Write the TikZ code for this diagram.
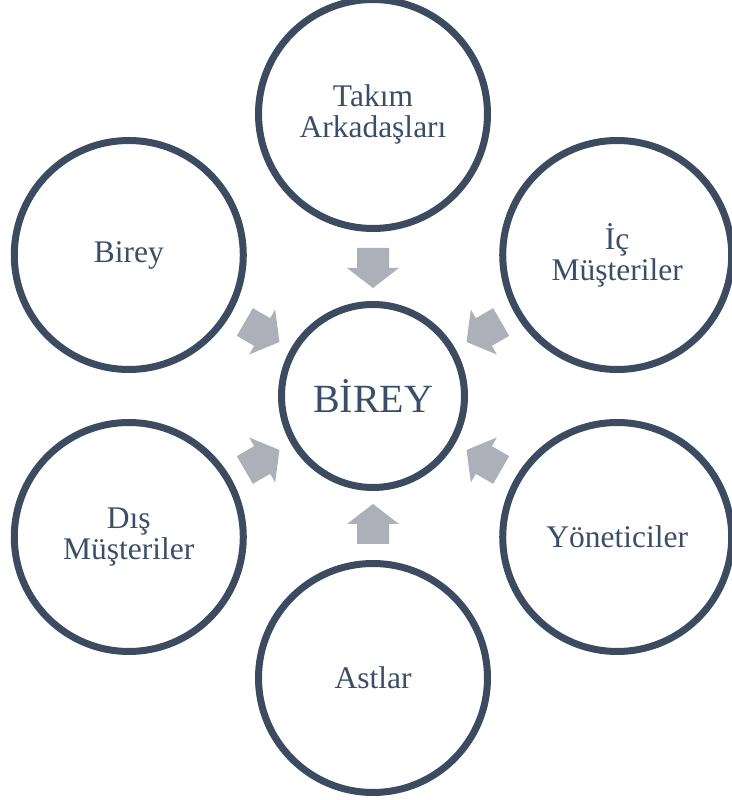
\documentclass[tikz,border=0pt]{standalone}
\usepackage{fontspec}
\setmainfont{Liberation Serif}
\usetikzlibrary{calc}
\definecolor{ringc}{HTML}{3C4B5F}
\definecolor{textc}{HTML}{3B4E68}
\definecolor{arrowc}{HTML}{ADB0B8}
\begin{document}
\begin{tikzpicture}[x=1pt,y=1pt,
  ring/.style={circle,draw=ringc,line width=7pt,inner sep=0pt,align=center,
    text=textc,font=\fontsize{31.5}{31}\selectfont},
  outerring/.style={ring,minimum size=229pt},
  centerring/.style={ring,minimum size=183pt,font=\fontsize{40}{40}\selectfont},
  blockarrow/.style={fill=arrowc}]
\useasboundingbox (0,0) rectangle (731,800);
\coordinate (c) at (373,404);
\node[centerring] (center) at (c) {BİREY};
\node[outerring] (top) at ($(c)+(90:282)$) {Takım\\Arkadaşları};
\node[outerring] (birey) at ($(c)+(150:282)$) {Birey};
\node[outerring] (ic) at ($(c)+(30:282)$) {İç\\Müşteriler};
\node[outerring] (dis) at ($(c)+(210:282)$) {Dış\\Müşteriler};
\node[outerring] (yon) at ($(c)+(330:282)$) {Yöneticiler};
\node[outerring] (ast) at ($(c)+(270:282)$) {Astlar};
\foreach \a in {90,150,30,210,330,270}{
  \begin{scope}[shift={(c)},rotate=\a]
    \fill[blockarrow] (148,16) -- (128,16) -- (128,26) -- (108,0) -- (128,-26) -- (128,-16) -- (148,-16) -- cycle;
  \end{scope}
}
\end{tikzpicture}
\end{document}
